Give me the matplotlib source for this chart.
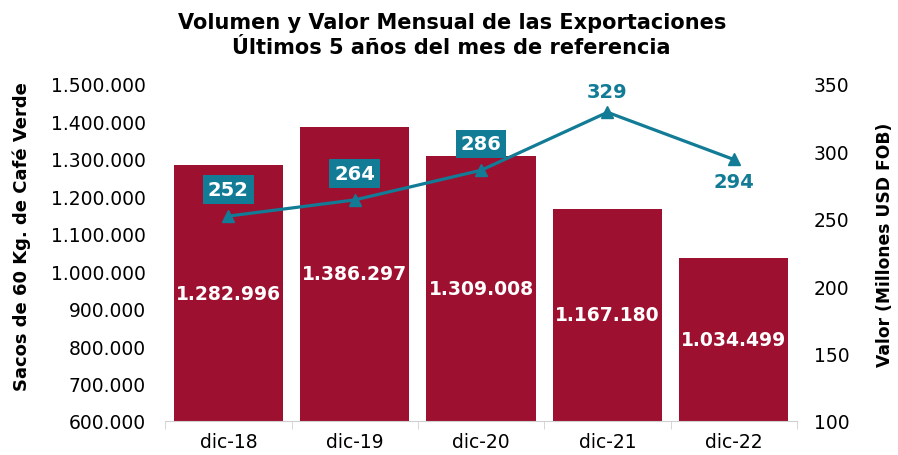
import matplotlib
matplotlib.use("Agg")
import matplotlib.pyplot as plt
import matplotlib.ticker as mticker

plt.rcParams['font.family'] = ['DejaVu Sans']

meses = ['dic-18', 'dic-19', 'dic-20', 'dic-21', 'dic-22']
volumen = [1282996, 1386297, 1309008, 1167180, 1034499]
valor = [252, 264, 286, 329, 294]
con_caja = [True, True, True, False, False]
arriba = [True, True, True, True, False]

rojo = '#9e1030'
azul = '#127b96'


def miles(v, pos=None):
    return f'{int(v):,}'.replace(',', '.')


fig = plt.figure(figsize=(8.98, 4.56), dpi=100)
ax = fig.add_axes([0.184, 0.0746, 0.7035, 0.739])
x = range(len(meses))

ax.bar(x, volumen, width=0.865, color=rojo, zorder=2)
ax.set_ylim(600000, 1500000)
ax.set_xlim(-0.5, 4.5)
ax.yaxis.set_major_locator(mticker.MultipleLocator(100000))
ax.yaxis.set_major_formatter(mticker.FuncFormatter(miles))
ax.set_xticks(list(x))
ax.set_xticklabels(meses)
ax.set_xticks([i + 0.5 for i in range(-1, 5)], minor=True)
ax.tick_params(axis='x', which='major', length=0, labelsize=13.5, pad=8)
ax.tick_params(axis='x', which='minor', length=6, color='#d0d0d0')
ax.tick_params(axis='y', length=0, labelsize=13.5, pad=14)
for s in ['top', 'right', 'left']:
    ax.spines[s].set_visible(False)
ax.spines['bottom'].set_color('#d0d0d0')
ax.set_ylabel('Sacos de 60 Kg. de Café Verde', fontsize=13, fontweight='bold')
ax.yaxis.set_label_coords(-0.212, 0.549)

for i, v in enumerate(volumen):
    ax.text(i, (600000 + v) / 2, miles(v), ha='center', va='center',
            color='white', fontsize=13.5, fontweight='bold', zorder=3)

ax2 = ax.twinx()
ax2.plot(list(x), valor, color=azul, lw=2.3, marker='^', markersize=9, zorder=4)
ax2.set_ylim(100, 350)
ax2.yaxis.set_major_locator(mticker.MultipleLocator(50))
ax2.tick_params(axis='y', length=0, labelsize=13.5, pad=12)
for s in ['top', 'right', 'left', 'bottom']:
    ax2.spines[s].set_visible(False)
ax2.set_ylabel('Valor (Millones USD FOB)', fontsize=12.3, fontweight='bold')
ax2.yaxis.set_label_coords(1.125, 0.525)

for i, v in enumerate(valor):
    if con_caja[i]:
        ax2.annotate(str(v), (i, v), xytext=(0, 19), textcoords='offset points',
                     ha='center', va='center', color='white', fontsize=14,
                     fontweight='bold',
                     bbox=dict(boxstyle='square,pad=0.25', fc=azul, ec='none'))
    else:
        dy = 8 if arriba[i] else -9
        ax2.annotate(str(v), (i, v), xytext=(0, dy), textcoords='offset points',
                     ha='center', va='bottom' if arriba[i] else 'top',
                     color=azul, fontsize=14, fontweight='bold')

fig.suptitle('Volumen y Valor Mensual de las Exportaciones\nÚltimos 5 años del mes de referencia',
             x=0.503, y=0.972, fontsize=15, fontweight='bold', linespacing=1.3)

fig.savefig('out.png', dpi=100)
